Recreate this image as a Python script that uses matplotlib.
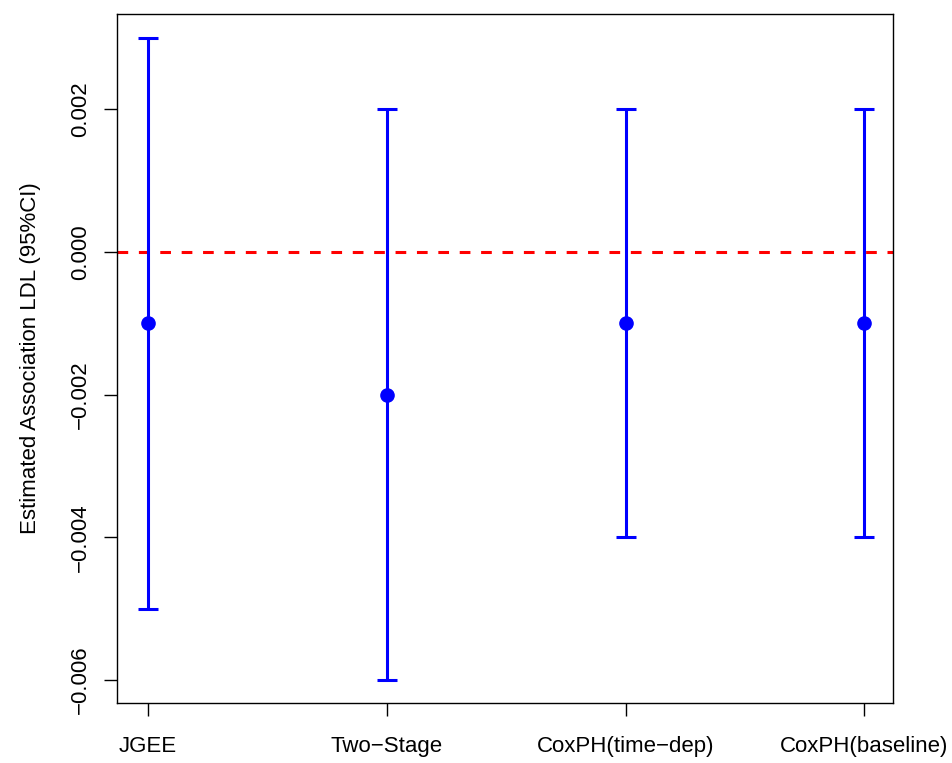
import matplotlib.pyplot as plt
import numpy as np

plt.rcParams['font.family'] = ['Liberation Sans', 'DejaVu Sans']

methods = ["JGEE", "Two\u2212Stage", "CoxPH(time\u2212dep)", "CoxPH(baseline)"]
est = [-0.001, -0.002, -0.001, -0.001]
lower = [-0.005, -0.006, -0.004, -0.004]
upper = [0.003, 0.002, 0.002, 0.002]
yticks = [-0.006, -0.004, -0.002, 0.000, 0.002]

x = np.arange(1, len(methods) + 1)
est = np.array(est)

fig = plt.figure(figsize=(9.53, 7.63), dpi=100)
ax = fig.add_axes([117/953, 1 - 703/763, (893 - 117)/953, (703 - 14)/763])

ax.axhline(0, color="red", lw=2.2, ls=(0, (3.5, 3.5)), zorder=1)
ax.errorbar(x, est, yerr=[est - np.array(lower), np.array(upper) - est],
            fmt="o", color="blue", ms=9.5, elinewidth=2.2, capsize=7.5,
            capthick=2.2, zorder=3)

ax.set_xlim(0.87, 4.12)
ax.set_ylim(-0.006322, 0.003336)
ax.set_xticks(x)
ax.set_xticklabels(methods)
ax.set_yticks(yticks)
ax.set_yticklabels([("%.3f" % v).replace("-", "\u2212") for v in yticks],
                   rotation=90, va="center")

ax.tick_params(axis="both", direction="out", length=9.5, width=1,
               labelsize=16, color="black")
ax.tick_params(axis="x", pad=14)
ax.tick_params(axis="y", pad=9)
for s in ax.spines.values():
    s.set_linewidth(1)
ax.set_ylabel("Estimated Association LDL (95%CI)", fontsize=16, labelpad=21)

fig.savefig("out.png", dpi=100)
